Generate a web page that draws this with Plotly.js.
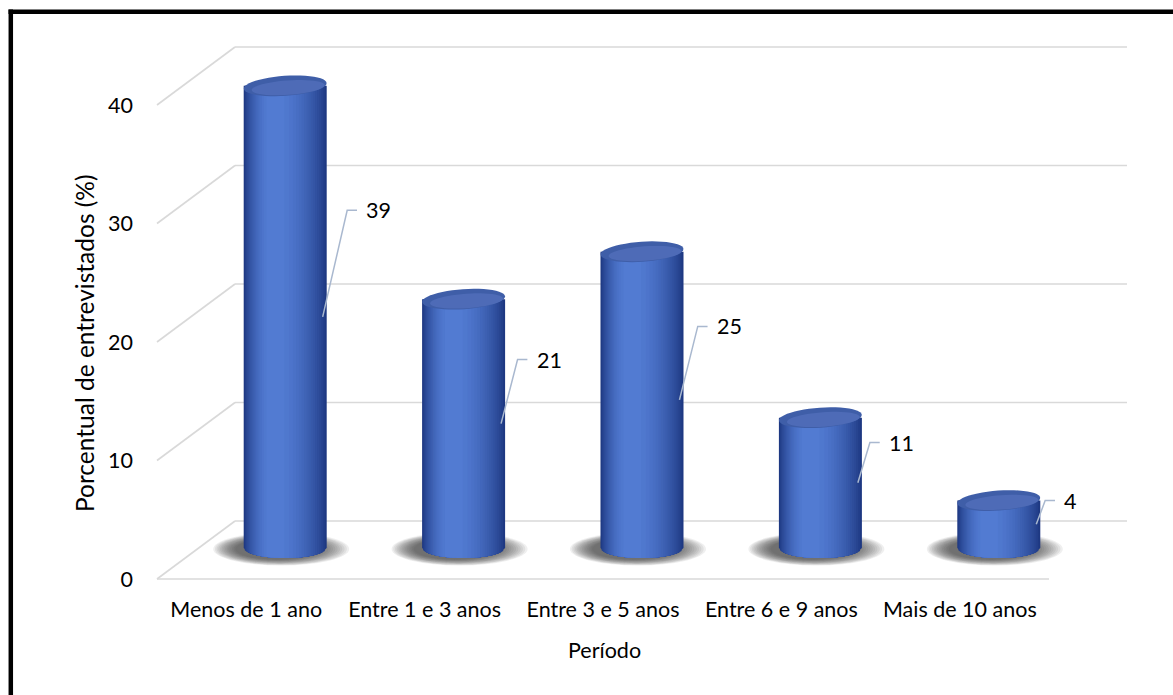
<!DOCTYPE html>
<html><head><meta charset="utf-8">
<script src="https://cdn.plot.ly/plotly-3.0.1.min.js"></script>
<style>html,body{margin:0;padding:0;background:#fff}#chart{width:1173px;height:695px}</style>
</head><body><div id="chart"></div>
<script>
// ---- data ----
const categories = ["Menos de 1 ano", "Entre 1 e 3 anos", "Entre 3 e 5 anos", "Entre 6 e 9 anos", "Mais de 10 anos"];
const values = [39, 21, 25, 11, 4];
const yTicks = [0, 10, 20, 30, 40];
const xTitle = "Período";
const yTitle = "Porcentual de entrevistados (%)";

// ---- geometry / style ----
const W = 1173, H = 695;
const L = 140, R = 30, T = 30, B = 105;
const plotW = W - L - R, plotH = H - T - B;
const n = categories.length;
const pxX = 178.4;          // px per category
const x0px = 196;           // pixel of x = -0.5 (bar depth plane)
const xAt = p => -0.5 + (p - x0px) / pxX;
const pxY = 11.85;
const yBasePx = 548;
const yMin = -(H - B - yBasePx) / pxY, yMax = (yBasePx - T) / pxY;
const depthX = 39 / pxX;
const frontDY = 31 / pxY, backDY = 27 / pxY;
const barW = 83 / pxX;
const capA = 41.5, capB = 10; // px
const FONT = "Lato, 'Open Sans', sans-serif";
const FS = 21.5;
const xs = categories.map((c, i) => i);

const dark = [30, 56, 130], light = [84, 126, 214];
function mix(b) {
  const t = Math.pow(b, 0.8);
  return 'rgb(' + dark.map((d, j) => Math.round(d + (light[j] - d) * t)).join(',') + ')';
}
const s0 = -0.3, NL = 18;
const layers = [];
for (let k = 0; k < NL; k++) {
  const b = k / NL;
  const g = (2 / Math.PI) * Math.acos(b);
  const l = (s0 - (s0 + 1) * g) * barW / 2;
  const r = (s0 + (1 - s0) * g) * barW / 2;
  layers.push({ l: l, r: r, color: mix(b) });
}

const traces = [];
layers.forEach(ly => {
  traces.push({
    type: 'bar', x: xs, y: values, offset: ly.l, width: ly.r - ly.l,
    marker: { color: ly.color, line: { width: 0 } },
    hoverinfo: 'skip', showlegend: false
  });
});

// leader lines and value labels
const lx = [], lyArr = [], annotations = [];
values.forEach((v, i) => {
  const sx = i + 0.21, sy = v / 2;
  const ly = 0.7 * v + 1.2;
  const bx = sx + 0.025 + 0.0125 * (ly - sy);
  const ex = bx + 0.055;
  lx.push(sx, bx, ex, null); lyArr.push(sy, ly, ly, null);
  annotations.push({
    x: ex + 0.04, y: ly, xref: 'x', yref: 'y', text: String(v), showarrow: false,
    xanchor: 'left', yanchor: 'middle', font: { family: FONT, size: FS, color: '#000' }
  });
});
traces.push({
  type: 'scatter', mode: 'lines', x: lx, y: lyArr, connectgaps: false,
  line: { color: '#a9b8cf', width: 1.5 }, hoverinfo: 'skip', showlegend: false
});
traces.push({ type: 'scatter', mode: 'markers', x: [0], y: [0], xaxis: 'x2', yaxis: 'y2',
  marker: { opacity: 0 }, hoverinfo: 'skip', showlegend: false });

// shapes
const shapes = [];
const gridLine = { color: '#d9d9d9', width: 1.6 };
yTicks.forEach(v => {
  shapes.push({ type: 'line', xref: 'x', yref: 'y', layer: 'below',
    x0: -0.5 + depthX, x1: n - 0.5 + depthX, y0: v + backDY, y1: v + backDY, line: gridLine });
  shapes.push({ type: 'line', xref: 'x', yref: 'y', layer: 'below',
    x0: -0.5 - depthX, x1: -0.5 + depthX, y0: v - frontDY, y1: v + backDY, line: gridLine });
});
shapes.push({ type: 'line', xref: 'x', yref: 'y', layer: 'below',
  x0: -0.5 - depthX, x1: n - 0.5 - depthX, y0: -frontDY, y1: -frontDY, line: gridLine });

// soft shadows
xs.forEach(i => {
  const NS = 14;
  for (let k = 0; k < NS; k++) {
    const f = k / (NS - 1);
    const hw = (68 - f * 26) / pxX, hh = (16.5 - f * 6) / pxY;
    const cx = i - (4 + f * 4) / pxX, cy = -1 / pxY;
    shapes.push({ type: 'circle', xref: 'x', yref: 'y', layer: 'below',
      x0: cx - hw, x1: cx + hw, y0: cy - hh, y1: cy + hh,
      fillcolor: 'rgba(45,45,45,0.08)', line: { width: 0 } });
  }
});
// bottom curved part of each cylinder layer
xs.forEach(i => {
  const A = barW / 2;
  layers.forEach(ly => {
    let p = 'M' + (i + ly.l) + ',0';
    const N = 16;
    for (let s = 0; s <= N; s++) {
      const x = ly.l + (ly.r - ly.l) * s / N;
      const q = Math.max(0, 1 - (x / A) * (x / A));
      const y = -(capB / pxY) * Math.sqrt(q);
      p += ' L' + (i + x) + ',' + y;
    }
    p += ' L' + (i + ly.r) + ',0 Z';
    shapes.push({ type: 'path', xref: 'x', yref: 'y', layer: 'below', path: p,
      fillcolor: ly.color, line: { width: 0 } });
  });
});
// top caps
function ellipsePath(cx, cy, a, b, thetaDeg) {
  const th = thetaDeg * Math.PI / 180;
  let p = '';
  for (let s = 0; s <= 48; s++) {
    const t = 2 * Math.PI * s / 48;
    const X = a * Math.cos(t), Y = b * Math.sin(t);
    const Xr = X * Math.cos(th) - Y * Math.sin(th);
    const Yr = X * Math.sin(th) + Y * Math.cos(th);
    p += (s === 0 ? 'M' : ' L') + (cx + Xr / pxX) + ',' + (cy - Yr / pxY);
  }
  return p + ' Z';
}
values.forEach((v, i) => {
  shapes.push({ type: 'path', xref: 'x', yref: 'y', path: ellipsePath(i, v, capA, capB, -4),
    fillcolor: '#3f5ea8', line: { width: 0 } });
  shapes.push({ type: 'path', xref: 'x', yref: 'y', path: ellipsePath(i + 3 / pxX, v - 1.8 / pxY, capA * 0.88, capB * 0.72, -4),
    fillcolor: 'rgba(88,117,194,0.6)', line: { width: 0 } });
});
// outer frame (left and top)
const px2paperX = px => (px - L) / plotW;
const px2paperY = py => (H - B - py) / plotH;
shapes.push({ type: 'line', xref: 'paper', yref: 'paper', x0: px2paperX(10.8), x1: px2paperX(10.8),
  y0: px2paperY(9.5), y1: px2paperY(H + 5), line: { color: '#000', width: 4.5 } });
shapes.push({ type: 'line', xref: 'paper', yref: 'paper', x0: px2paperX(8.5), x1: px2paperX(W + 5),
  y0: px2paperY(11.7), y1: px2paperY(11.7), line: { color: '#000', width: 4.5 } });

// titles
annotations.push({ xref: 'paper', yref: 'paper', x: px2paperX(604), y: px2paperY(650), text: xTitle,
  showarrow: false, xanchor: 'center', yanchor: 'middle', font: { family: FONT, size: FS, color: '#000' } });
annotations.push({ xref: 'paper', yref: 'paper', x: px2paperX(84), y: px2paperY(343), text: yTitle,
  showarrow: false, textangle: -90, xanchor: 'center', yanchor: 'middle', font: { family: FONT, size: 24.5, color: '#000' } });

const xRange = [xAt(L), xAt(W - R)];
const layout = {
  width: W, height: H,
  margin: { l: L, r: R, t: T, b: B, pad: 0 },
  paper_bgcolor: '#fff', plot_bgcolor: 'rgba(0,0,0,0)',
  barmode: 'overlay', showlegend: false,
  xaxis: { range: xRange, visible: false, fixedrange: true },
  yaxis: { range: [yMin, yMax], visible: false, fixedrange: true },
  xaxis2: { overlaying: 'x', anchor: 'y2', side: 'bottom', range: [xRange[0] + depthX, xRange[1] + depthX],
    tickvals: xs, ticktext: categories, showgrid: false, zeroline: false, showline: false, ticks: '',
    ticklabelstandoff: 4, tickfont: { family: FONT, size: FS, color: '#000' }, fixedrange: true },
  yaxis2: { overlaying: 'y', anchor: 'x2', side: 'left', range: [yMin + frontDY, yMax + frontDY],
    tickvals: yTicks, showgrid: false, zeroline: false, showline: false, ticks: '',
    ticklabelstandoff: 6, tickfont: { family: FONT, size: FS, color: '#000' }, fixedrange: true },
  shapes: shapes, annotations: annotations
};
Plotly.newPlot('chart', traces, layout, { displayModeBar: false, staticPlot: true });
</script></body></html>
